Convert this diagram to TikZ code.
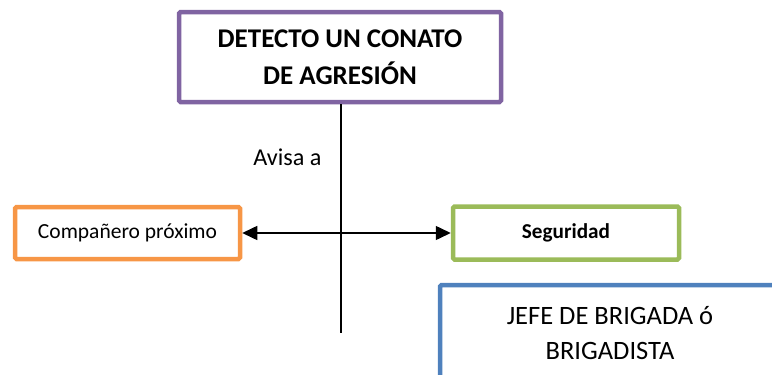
\documentclass[tikz,border=0pt]{standalone}
\usepackage{fontspec}
\setmainfont{Carlito}
\usetikzlibrary{arrows.meta}
\definecolor{boxpurple}{RGB}{128,100,162}
\definecolor{boxorange}{RGB}{247,150,70}
\definecolor{boxgreen}{RGB}{155,187,89}
\definecolor{boxblue}{RGB}{79,129,189}
\begin{document}
\begin{tikzpicture}[x=1pt,y=-1pt,
	box/.style={draw,line width=4.5pt,rounded corners=1.5pt,fill=white,
		align=center,inner sep=0pt}]
		\useasboundingbox (0,0) rectangle (772,375);
		\begin{scope}[every node/.style={box}]
		\node (detecto) at (340,57) [draw=boxpurple,minimum width=322pt,minimum height=90pt,
			font=\bfseries\fontsize{27}{36.5}\selectfont]{DETECTO UN CONATO\\DE AGRESIÓN};
		\node (companero) at (127.5,233) [draw=boxorange,minimum width=225pt,minimum height=52pt,
			font=\fontsize{21.5}{25}\selectfont]{Compañero próximo};
		\node (seguridad) at (566,233) [draw=boxgreen,minimum width=226pt,minimum height=53pt,
			font=\bfseries\fontsize{21.2}{25}\selectfont]{Seguridad};
		\node (jefe) at (610,333) [draw=boxblue,minimum width=340pt,minimum height=96pt,
			font=\fontsize{26.5}{35}\selectfont]{JEFE DE BRIGADA ó\\BRIGADISTA};
		\end{scope}
		
		\node (avisa) at (287.5,157) [font=\fontsize{24.2}{28}\selectfont]{Avisa a};
		\coordinate (fin) at (341,333);
		
		\draw [line width=1.5pt] (detecto.south -| fin) -- (fin);
		\draw [line width=1.5pt,{Triangle[length=15pt,width=14pt]}-{Triangle[length=15pt,width=14pt]}]
			(companero) -- (seguridad);
\end{tikzpicture}
\end{document}
